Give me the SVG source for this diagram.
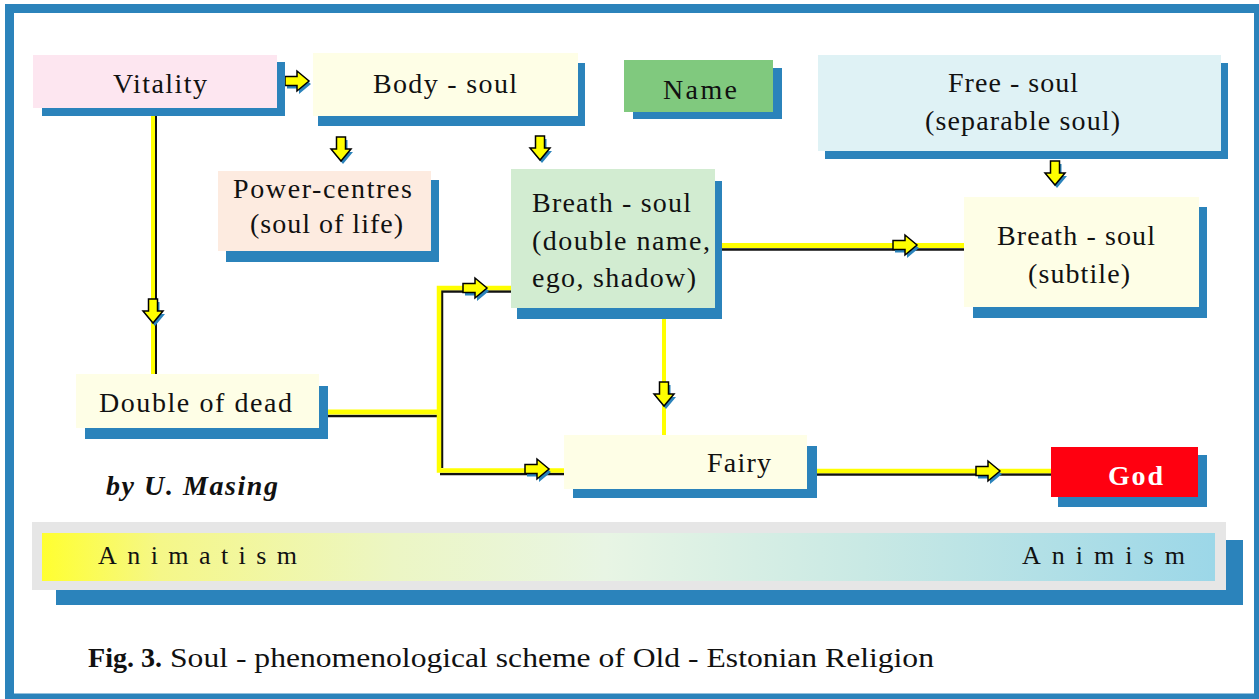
<svg xmlns="http://www.w3.org/2000/svg" xmlns:xlink="http://www.w3.org/1999/xlink" width="1259" height="699" viewBox="0 0 1259 699">
<style>
.sh{fill:#2b83bb}
.t{font-family:"Liberation Serif","Times New Roman",serif;font-size:28px;fill:#111}
.ar{fill:#ffff00;stroke:#000;stroke-width:1.5;stroke-linejoin:miter}
.as{fill:#2b83bb}
.y{fill:none;stroke:#ffff00}
.k{fill:none;stroke:#111}
</style>
<defs>
<linearGradient id="grad" x1="0" y1="0" x2="1" y2="0">
<stop offset="0" stop-color="#ffff30"/>
<stop offset="0.1" stop-color="#f5f788"/>
<stop offset="0.3" stop-color="#ecf6c4"/>
<stop offset="0.48" stop-color="#e8f5e4"/>
<stop offset="0.7" stop-color="#c9e9e4"/>
<stop offset="1" stop-color="#9cd7e8"/>
</linearGradient>
<path id="ah" d="M-12,-4.5 L0,-4.5 L0,-10 L12,0 L0,10 L0,4.5 L-12,4.5 Z"/>
<path id="av" d="M-4.5,-12 L4.5,-12 L4.5,0 L10,0 L0,12 L-10,0 L-4.5,0 Z"/>
</defs>
<rect x="0" y="0" width="1259" height="699" fill="#fff"/>
<rect x="9.5" y="8.5" width="1249" height="689.5" fill="none" stroke="#2b83bb" stroke-width="9"/>

<g id="connectors">
<line class="k" x1="156" y1="116" x2="156" y2="374" stroke-width="2"/>
<line class="y" x1="153" y1="116" x2="153" y2="374" stroke-width="4"/>
<line class="k" x1="328" y1="416" x2="437" y2="416" stroke-width="2.5"/>
<line class="y" x1="328" y1="412" x2="441" y2="412" stroke-width="5"/>
<polyline class="k" points="511,291.5 442,291.5 442,468" stroke-width="2.5"/>
<polyline class="k" points="440,474 565,474" stroke-width="2.5"/>
<polyline class="y" points="511,288 439,288 439,470.5 565,470.5" stroke-width="4.5"/>
<line class="k" x1="722" y1="249.5" x2="964" y2="249.5" stroke-width="2.5"/>
<line class="y" x1="722" y1="245.5" x2="964" y2="245.5" stroke-width="5"/>
<line class="y" x1="664" y1="319" x2="664" y2="435" stroke-width="4"/>
<line class="k" x1="817" y1="474.5" x2="1051" y2="474.5" stroke-width="2.5"/>
<line class="y" x1="817" y1="471" x2="1051" y2="471" stroke-width="4.5"/>
<use xlink:href="#ah" class="as" x="299" y="84"/><use xlink:href="#ah" class="ar" x="297" y="81"/>
<use xlink:href="#av" class="as" x="343" y="152"/><use xlink:href="#av" class="ar" x="341" y="149"/>
<use xlink:href="#av" class="as" x="542" y="151"/><use xlink:href="#av" class="ar" x="540" y="148"/>
<use xlink:href="#av" class="as" x="1057" y="176"/><use xlink:href="#av" class="ar" x="1055" y="173"/>
<use xlink:href="#av" class="as" x="155" y="314"/><use xlink:href="#av" class="ar" x="153" y="311"/>
<use xlink:href="#av" class="as" x="666" y="397"/><use xlink:href="#av" class="ar" x="664" y="394"/>
<use xlink:href="#ah" class="as" x="477" y="291"/><use xlink:href="#ah" class="ar" x="475" y="288"/>
<use xlink:href="#ah" class="as" x="907" y="248"/><use xlink:href="#ah" class="ar" x="905" y="245"/>
<use xlink:href="#ah" class="as" x="539" y="472"/><use xlink:href="#ah" class="ar" x="537" y="469"/>
<use xlink:href="#ah" class="as" x="990" y="474"/><use xlink:href="#ah" class="ar" x="988" y="471"/>
</g>

<g id="vitality">
<rect class="sh" x="42" y="62" width="243" height="54"/>
<rect x="33" y="55" width="244" height="53" fill="#fde6f0"/>
<text class="t" x="113" y="93" textLength="94" lengthAdjust="spacing">Vitality</text>
</g>
<g id="body-soul">
<rect class="sh" x="318" y="63" width="267" height="63"/>
<rect x="313" y="53" width="265" height="63" fill="#fefee6"/>
<text class="t" x="373" y="93" textLength="144" lengthAdjust="spacing">Body - soul</text>
</g>
<g id="name">
<rect class="sh" x="633" y="68" width="149" height="51"/>
<rect x="624" y="60" width="149" height="52" fill="#80c97e"/>
<text class="t" x="663" y="99" textLength="74" lengthAdjust="spacing">Name</text>
</g>
<g id="free-soul">
<rect class="sh" x="825" y="63" width="403" height="96"/>
<rect x="818" y="55" width="403" height="96" fill="#dff2f5"/>
<text class="t" x="948" y="92" textLength="130" lengthAdjust="spacing">Free - soul</text>
<text class="t" x="925" y="130" textLength="195" lengthAdjust="spacing">(separable soul)</text>
</g>
<g id="power-centres">
<rect class="sh" x="226" y="180" width="213" height="82"/>
<rect x="218" y="171" width="213" height="80" fill="#fdebe0"/>
<text class="t" x="233" y="198" textLength="179" lengthAdjust="spacing">Power-centres</text>
<text class="t" x="250" y="233" textLength="153" lengthAdjust="spacing">(soul of life)</text>
</g>
<g id="breath-soul">
<rect class="sh" x="517" y="181" width="205" height="138"/>
<rect x="511" y="169" width="204" height="139" fill="#d2ecd1"/>
<text class="t" x="532" y="212" textLength="159" lengthAdjust="spacing">Breath - soul</text>
<text class="t" x="532" y="250" textLength="178" lengthAdjust="spacing">(double name,</text>
<text class="t" x="532" y="287" textLength="164" lengthAdjust="spacing">ego, shadow)</text>
</g>
<g id="breath-soul-subtile">
<rect class="sh" x="973" y="207" width="234" height="111"/>
<rect x="964" y="197" width="235" height="110" fill="#fefee6"/>
<text class="t" x="997" y="245" textLength="158" lengthAdjust="spacing">Breath - soul</text>
<text class="t" x="1028" y="283" textLength="102" lengthAdjust="spacing">(subtile)</text>
</g>
<g id="double-of-dead">
<rect class="sh" x="85" y="386" width="243" height="53"/>
<rect x="76" y="374" width="243" height="54" fill="#fefee6"/>
<text class="t" x="99" y="412" textLength="193" lengthAdjust="spacing">Double of dead</text>
</g>
<g id="fairy">
<rect class="sh" x="573" y="446" width="244" height="52"/>
<rect x="564" y="435" width="243" height="54" fill="#fefee6"/>
<text class="t" x="707" y="472" textLength="64" lengthAdjust="spacing">Fairy</text>
</g>
<g id="god">
<rect class="sh" x="1058" y="455" width="149" height="52"/>
<rect x="1051" y="447" width="147" height="50" fill="#ff0010"/>
<text class="t" x="1108" y="485" textLength="55" lengthAdjust="spacing" font-weight="bold" style="fill:#fff">God</text>
</g>

<text class="t" x="106" y="495" textLength="172" lengthAdjust="spacing" font-weight="bold" font-style="italic">by U. Masing</text>

<g id="scale-bar">
<rect class="sh" x="56" y="540" width="1187" height="65"/>
<rect x="32" y="522" width="1194" height="68" fill="#e6e6e6"/>
<rect x="42" y="533" width="1173" height="48" fill="url(#grad)"/>
<text class="t" x="98" y="564" style="font-size:26px" textLength="199" lengthAdjust="spacing">Animatism</text>
<text class="t" x="1022" y="564" style="font-size:26px" textLength="163" lengthAdjust="spacing">Animism</text>
</g>

<text class="t" x="88" y="667" style="font-size:27px" font-weight="bold" textLength="74" lengthAdjust="spacingAndGlyphs">Fig. 3.</text>
<text class="t" x="170" y="667" style="font-size:27px" textLength="764" lengthAdjust="spacingAndGlyphs">Soul - phenomenological scheme of Old - Estonian Religion</text>
</svg>
